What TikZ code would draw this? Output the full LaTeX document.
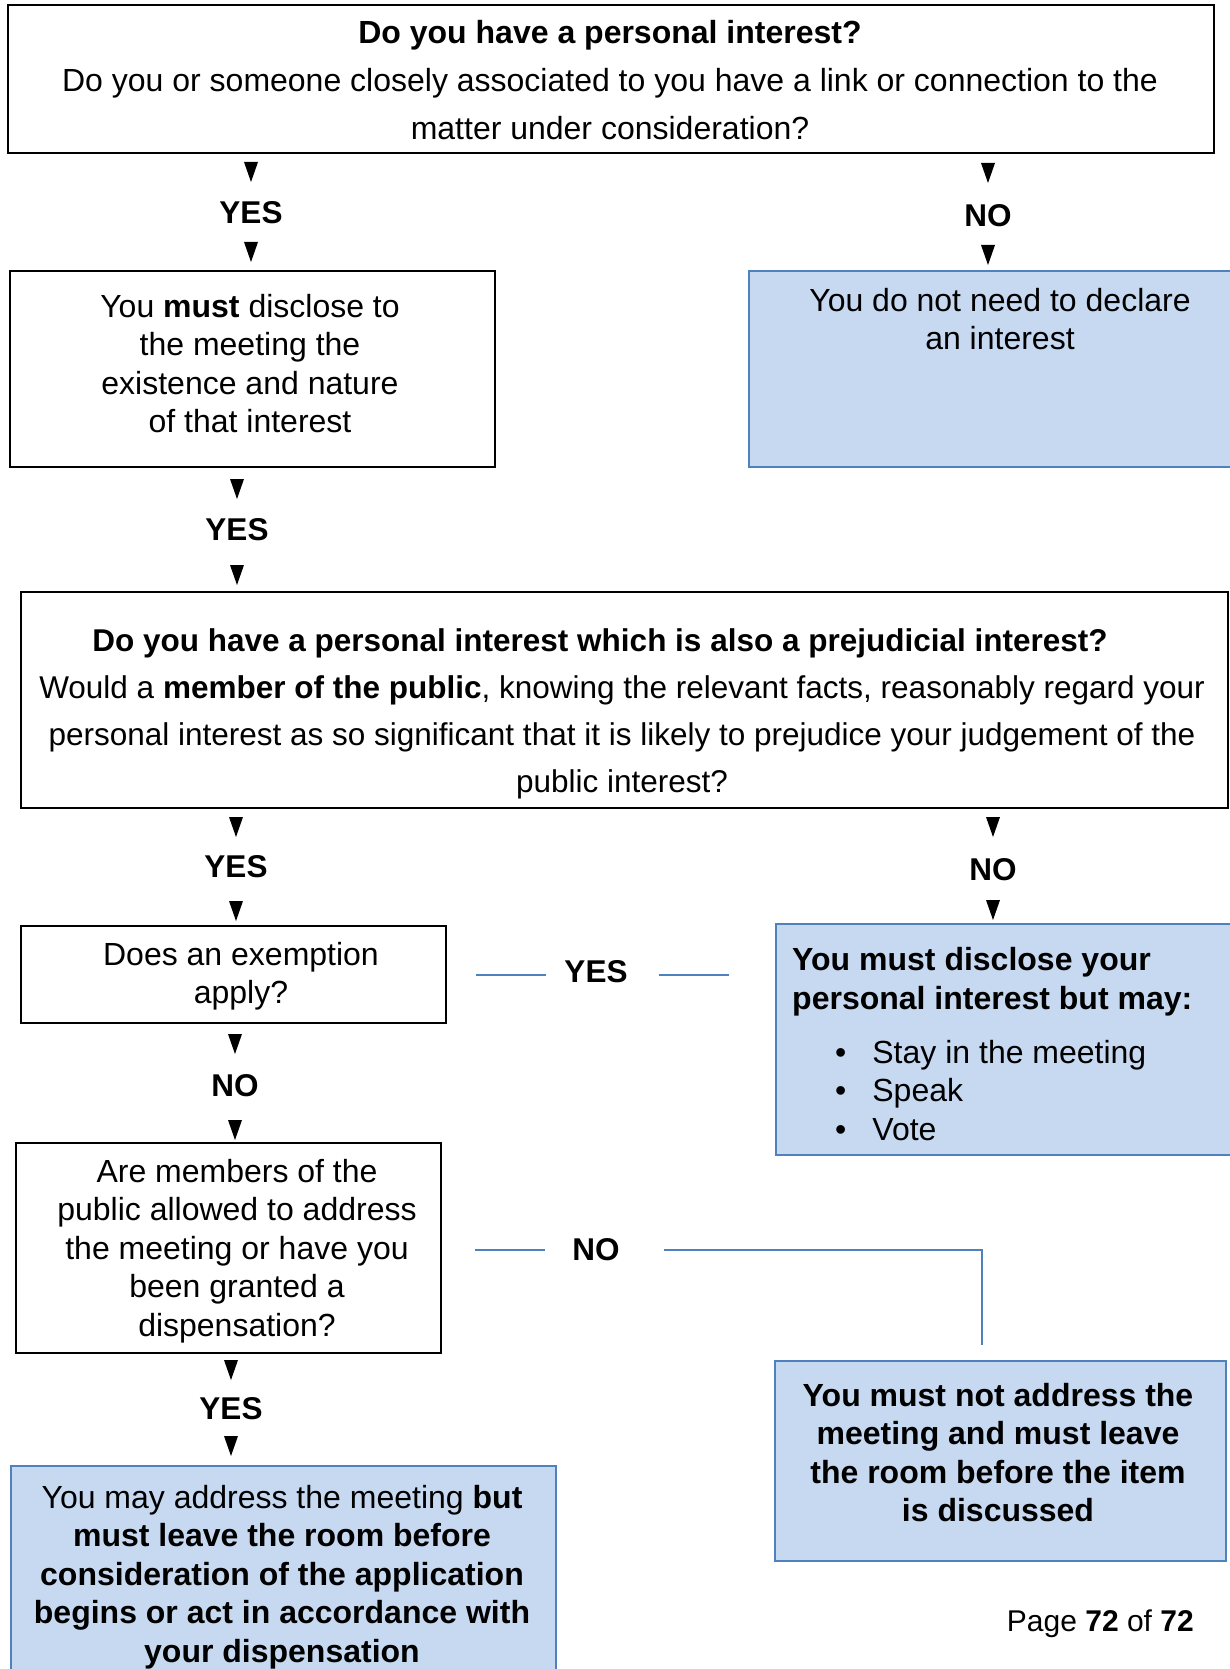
\documentclass[tikz,border=0pt]{standalone}
\usepackage{fontspec}
\setmainfont{Liberation Sans}
\definecolor{boxblue}{HTML}{C6D9F1}
\definecolor{edgeblue}{HTML}{4F81BD}
\tikzset{
  plainbox/.style={draw=black, line width=1.8pt, fill=white, inner sep=0pt, anchor=north west},
  bluebox/.style={draw=edgeblue, line width=1.8pt, fill=boxblue, inner sep=0pt, anchor=north west},
  txt/.style={font=\fontsize{32}{38.5}\selectfont, align=center, inner sep=0pt},
  lbl/.style={font=\fontsize{31.5}{36}\selectfont\bfseries, inner sep=0pt},
  link/.style={draw=edgeblue, line width=1.6pt},
}
\newcommand{\dtri}[2]{\fill (#1,#2) ++(-7,-10) -- ++(14,0) -- ++(-7,20) -- cycle;}
\begin{document}
\begin{tikzpicture}[x=1pt,y=-1pt]
\useasboundingbox (0,0) rectangle (1230,1669);
% top box
\node[plainbox, minimum width=1206pt, minimum height=148pt] (q1) at (7,4) {};
\node[txt, font=\fontsize{32}{48}\selectfont, anchor=north] (q1t) at (610,20) {\textbf{Do you have a personal interest?}\\Do you or someone closely associated to you have a link or connection to the\\matter under consideration?};
% yes/no 1
\dtri{251}{172}
\node[lbl] (y1) at (251,213) {YES};
\dtri{251}{252}
\dtri{988}{173}
\node[lbl] (n1) at (988,216) {NO};
\dtri{988}{255}
% box 2
\node[plainbox, minimum width=485pt, minimum height=196pt] (b2) at (9,270) {};
\node[txt, anchor=north] (b2t) at (250,294) {You \textbf{must} disclose to\\the meeting the\\existence and nature\\of that interest};
% blue right 1
\node[bluebox, minimum width=510pt, minimum height=196pt] (nd) at (748,270) {};
\node[txt, anchor=north] (ndt) at (1000,288) {You do not need to declare\\an interest};
% yes 2
\dtri{237}{489}
\node[lbl] (y2) at (237,530) {YES};
\dtri{237}{575}
% big box
\node[plainbox, minimum width=1207pt, minimum height=216pt] (q2) at (20,591) {};
\node[txt, font=\fontsize{31.5}{47}\selectfont, anchor=north] (q2t) at (622,628) {\textbf{Do you have a personal interest which is also a prejudicial interest?}\hspace*{44pt}\\Would a \textbf{member of the public}, knowing the relevant facts, reasonably regard your\\personal interest as so significant that it is likely to prejudice your judgement of the\\public interest?};
% yes/no 3
\dtri{236}{827}
\node[lbl] (y3) at (236,867) {YES};
\dtri{236}{911}
\dtri{993}{827}
\node[lbl] (n3) at (993,870) {NO};
\dtri{993}{910}
% exemption
\node[plainbox, minimum width=425pt, minimum height=97pt] (ex) at (20,925) {};
\node[txt, anchor=north] (ext) at (241,942) {Does an exemption\\apply?};
% blue disclose
\node[bluebox, minimum width=480pt, minimum height=231pt] (dis) at (775,923) {};
\node[txt, font=\fontsize{32}{39}\selectfont\bfseries, align=left, anchor=north west] (dist) at (792,947) {You must disclose your\\personal interest but may:};
\node[txt, align=left, anchor=north west] (disl) at (835,1040) {\textbullet\hspace{26pt}Stay in the meeting\\\textbullet\hspace{26pt}Speak\\\textbullet\hspace{26pt}Vote};
% yes link
\node[lbl] (y4) at (596,972) {YES};
\draw[link] (476,975) -- (546,975);
\draw[link] (659,975) -- (729,975);
% no 4
\dtri{235}{1044}
\node[lbl] (n4) at (235,1086) {NO};
\dtri{235}{1130}
% members box
\node[plainbox, minimum width=425pt, minimum height=210pt] (mem) at (15,1142) {};
\node[txt, anchor=north] (memt) at (237,1159) {Are members of the\\public allowed to address\\the meeting or have you\\been granted a\\dispensation?};
% no link
\node[lbl] (n5) at (596,1250) {NO};
\coordinate (nl1) at (475,1250);
\coordinate (nl2) at (545,1250);
\coordinate (nl3) at (664,1250);
\coordinate (nl4) at (982,1250);
\coordinate (nl5) at (982,1345);
\draw[link] (nl1) -- (nl2);
\draw[link] (nl3) -- (nl4) -- (nl5);
% must not box
\node[bluebox, minimum width=451pt, minimum height=200pt] (mn) at (774,1360) {};
\node[txt, font=\fontsize{32}{38.5}\selectfont\bfseries, anchor=north] (mnt) at (998,1383) {You must not address the\\meeting and must leave\\the room before the item\\is discussed};
% yes 5
\dtri{231}{1370}
\node[lbl] (y5) at (231,1409) {YES};
\dtri{231}{1446}
% bottom-left blue
\node[bluebox, minimum width=545pt, minimum height=240pt] (ma) at (10,1465) {};
\node[txt, font=\fontsize{32}{38.5}\selectfont, anchor=north] (mat) at (282,1485) {You may address the meeting \textbf{but}\\\textbf{must leave the room before}\\\textbf{consideration of the application}\\\textbf{begins or act in accordance with}\\\textbf{your dispensation}};
% page
\node[txt, font=\fontsize{30}{36}\selectfont, anchor=east] (pg) at (1194,1624) {Page \textbf{72} of \textbf{72}};
\end{tikzpicture}
\end{document}
